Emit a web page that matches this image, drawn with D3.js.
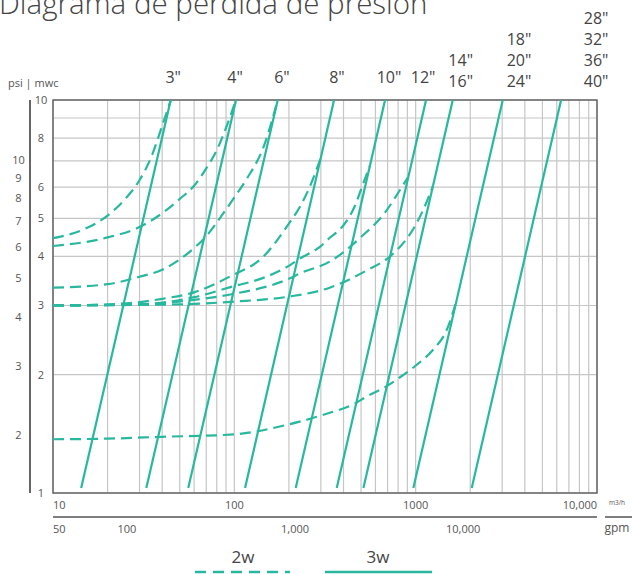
<!DOCTYPE html>
<html>
<head>
<meta charset="utf-8">
<script src="https://cdn.jsdelivr.net/npm/d3@7"></script>
<style>
  html, body { margin: 0; padding: 0; background: #fff; }
  svg { display: block; font-family: "Open Sans", "Lato", sans-serif; }
</style>
</head>
<body>
<svg id="chart" width="632" height="574"></svg>
<script>
// Nominal pipe sizes, grouped where one curve serves several sizes
const sizeGroups = [["3\""], ["4\""], ["6\""], ["8\""], ["10\""], ["12\""],
  ["14\"", "16\""], ["18\"", "20\"", "24\""], ["28\"", "32\"", "36\"", "40\""]];
// Flow (m3/h) above which each size label is centred
const sizeLabelFlow = [46, 101, 183, 368, 713, 1099, 1771, 3715, 9890];

// 3w valves: straight loss lines, flow (m3/h) at the low and high pressure ends
const lineLowMwc = 1.03;
const lineHighMwc = 10;
const threeWayLow = [14.3, 32.7, 55.7, 114.6, 218, 367, 515, 971, 2038];
const threeWayHigh = [44.6, 102.2, 173.5, 354.8, 678, 1141, 1602, 3022, 6339];

// 2w valves: [flow m3/h, loss mwc] for each size
const twoWay3 = [[10, 4.45], [15, 4.7], [20, 5.08], [25, 5.6], [30, 6.25], [35, 7.2], [40, 8.6], [44.6, 10]];
const twoWay4 = [[10, 4.25], [20, 4.47], [30, 4.75], [40, 5.15], [50, 5.6], [60, 6.05], [70, 6.7], [80, 7.45], [90, 8.5], [102, 10]];
const twoWay6 = [[10, 3.33], [20, 3.4], [30, 3.55], [40, 3.7], [50, 3.93], [60, 4.2], [70, 4.5], [80, 4.88], [100, 5.65], [117, 6.3], [145, 7.6], [173.5, 10]];
const twoWay8 = [[10, 3.0], [20, 3.02], [30, 3.06], [40, 3.12], [60, 3.24], [95, 3.56], [145, 4.0], [200, 4.85], [230, 5.35], [260, 6.0], [298, 7.07]];
const twoWay10 = [[10, 3.0], [30, 3.02], [60, 3.15], [95, 3.34], [150, 3.55], [203, 3.8], [230, 3.95], [300, 4.25], [336, 4.46], [400, 4.8], [460, 5.35], [505, 6.0], [559, 6.8]];
const twoWay12 = [[10, 3.0], [30, 3.02], [60, 3.1], [95, 3.2], [203, 3.52], [230, 3.62], [336, 3.88], [505, 4.5], [677, 5.17], [800, 5.8], [905, 6.35]];
const twoWay1416 = [[10, 3.0], [50, 3.02], [100, 3.07], [200, 3.16], [336, 3.33], [546, 3.7], [722, 4.0], [968, 4.69], [1100, 5.25], [1245, 6.04]];
const twoWay1824 = [[10, 1.37], [20, 1.375], [40, 1.39], [100, 1.41], [194, 1.49], [336, 1.6], [453, 1.68], [537, 1.76], [692, 1.87], [820, 1.97], [1014, 2.12], [1253, 2.32], [1484, 2.6], [1686, 3.1]];
const twoWaySeries = [twoWay3, twoWay4, twoWay6, twoWay8, twoWay10, twoWay12, twoWay1416, twoWay1824];

// Axis ticks
const flowTicks = [10, 100, 1000, 10000];
const flowTickLabels = ["10", "100", "1000", "10,000"];
const gpmTicks = [50, 100, 1000, 10000];
const gpmTickLabels = ["50", "100", "1,000", "10,000"];
const mwcTicks = [10, 8, 6, 5, 4, 3, 2, 1];
const psiTicks = [10, 9, 8, 7, 6, 5, 4, 3, 2];
const PSI_PER_MWC = 1.4223;

const legendItems = [{ label: "2w", dashed: true }, { label: "3w", dashed: false }];

const teal = "#28b89e";
const textCol = "#555";

const svg = d3.select("#chart");
const W = 632;
const plot = { left: 53, right: 597, top: 100, bottom: 493 };

const x = d3.scaleLog().domain([10, 10000]).range([plot.left, plot.right]);
const y = d3.scaleLog().domain([1, 10]).range([plot.bottom, plot.top]);
const yPsi = d3.scaleLog().domain([PSI_PER_MWC, 10 * PSI_PER_MWC]).range([plot.bottom, plot.top]);
const pw = plot.right - plot.left;
const xGpm = d3.scaleLog().domain(gpmTicks)
  .range([0, 0.136, 0.445, 0.754].map(f => plot.left + f * pw));

// Title
svg.append("text")
  .attr("x", -1).attr("y", 14)
  .attr("font-size", 29.5).attr("font-weight", 300)
  .attr("fill", "#444")
  .text("Diagrama de pérdida de presión");

// Grid
const grid = svg.append("g");
grid.selectAll(".gx").data(x.ticks()).join("line")
  .attr("x1", d => x(d)).attr("x2", d => x(d))
  .attr("y1", plot.top).attr("y2", plot.bottom)
  .attr("stroke", "#c6c6c6").attr("stroke-width", 1.2);
grid.selectAll(".gy").data(y.ticks()).join("line")
  .attr("x1", plot.left).attr("x2", plot.right)
  .attr("y1", d => y(d)).attr("y2", d => y(d))
  .attr("stroke", "#c6c6c6").attr("stroke-width", 1.2);

// Plot frame
svg.append("rect")
  .attr("x", plot.left).attr("y", plot.top)
  .attr("width", pw).attr("height", plot.bottom - plot.top)
  .attr("fill", "none").attr("stroke", "#666").attr("stroke-width", 1.5);

// psi axis line
svg.append("line")
  .attr("x1", 30).attr("x2", 30)
  .attr("y1", plot.top).attr("y2", plot.bottom)
  .attr("stroke", "#666").attr("stroke-width", 2);

svg.append("text").attr("x", 8).attr("y", 87)
  .attr("font-size", 11).attr("fill", textCol).text("psi | mwc");

// mwc labels
svg.selectAll(".mwc").data(mwcTicks).join("text")
  .attr("x", 41).attr("y", d => y(d) + 4)
  .attr("text-anchor", "middle").attr("font-size", 11).attr("fill", textCol)
  .text(d => d);

// psi labels
svg.selectAll(".psi").data(psiTicks).join("text")
  .attr("x", 18.5).attr("y", d => yPsi(d) + 4)
  .attr("text-anchor", "middle").attr("font-size", 11).attr("fill", textCol)
  .text(d => d);

// Flow axis labels (m3/h)
svg.selectAll(".fx").data(flowTicks).join("text")
  .attr("x", d => x(d))
  .attr("y", 509)
  .attr("text-anchor", (d, i) => i === 0 ? "start" : i === flowTicks.length - 1 ? "end" : "middle")
  .attr("font-size", 11).attr("fill", textCol)
  .text((d, i) => flowTickLabels[i]);

// gpm axis
svg.append("line")
  .attr("x1", plot.left).attr("x2", plot.right)
  .attr("y1", 517).attr("y2", 517)
  .attr("stroke", "#555").attr("stroke-width", 1.5);
svg.selectAll(".gx2").data(gpmTicks).join("text")
  .attr("x", d => xGpm(d))
  .attr("y", 533)
  .attr("text-anchor", (d, i) => i === 0 ? "start" : "middle")
  .attr("font-size", 11).attr("fill", textCol)
  .text((d, i) => gpmTickLabels[i]);

// Unit labels
svg.append("text").attr("x", 617).attr("y", 505)
  .attr("text-anchor", "middle").attr("font-size", 6.5).attr("fill", textCol).text("m3/h");
svg.append("line").attr("x1", 605).attr("x2", W).attr("y1", 517).attr("y2", 517)
  .attr("stroke", "#555").attr("stroke-width", 1.5);
svg.append("text").attr("x", 617).attr("y", 532)
  .attr("text-anchor", "middle").attr("font-size", 12).attr("fill", textCol).text("gpm");

// Marks, clipped to the plot frame
svg.append("clipPath").attr("id", "plotClip").append("rect")
  .attr("x", plot.left).attr("y", plot.top - 1)
  .attr("width", pw).attr("height", plot.bottom - plot.top + 1);
const marks = svg.append("g").attr("clip-path", "url(#plotClip)");

const line = d3.line()
  .x(d => x(d[0])).y(d => y(d[1]))
  .curve(d3.curveMonotoneX);

marks.selectAll(".two").data(twoWaySeries).join("path")
  .attr("d", line)
  .attr("fill", "none").attr("stroke", teal)
  .attr("stroke-width", 2.2).attr("stroke-dasharray", "11,6");

marks.selectAll(".three").data(threeWayLow.map((q, i) => [[q, lineLowMwc], [threeWayHigh[i], lineHighMwc]]))
  .join("path")
  .attr("d", d3.line().x(d => x(d[0])).y(d => y(d[1])))
  .attr("fill", "none").attr("stroke", teal).attr("stroke-width", 2.2);

// Pipe size labels
const rowGap = 21;
sizeGroups.forEach((g, i) => {
  const base = g.length === 1 ? 83 : 87;
  svg.selectAll(null).data(g).join("text")
    .attr("x", x(sizeLabelFlow[i]))
    .attr("y", (d, j) => base - (g.length - 1 - j) * rowGap)
    .attr("text-anchor", "middle").attr("font-size", 16).attr("fill", "#444")
    .text(d => d);
});

// Legend
const legendX = [243, 378];
const lg = svg.selectAll(".leg").data(legendItems).join("g");
lg.append("text")
  .attr("x", (d, i) => legendX[i]).attr("y", 563)
  .attr("text-anchor", "middle").attr("font-size", 17).attr("fill", "#444")
  .text(d => d.label);
lg.append("line")
  .attr("x1", (d, i) => i === 0 ? 195 : 325)
  .attr("x2", (d, i) => i === 0 ? 290 : 432)
  .attr("y1", 572).attr("y2", 572)
  .attr("stroke", teal).attr("stroke-width", 2.6)
  .attr("stroke-dasharray", d => d.dashed ? "11,7" : null);
</script>
</body>
</html>
